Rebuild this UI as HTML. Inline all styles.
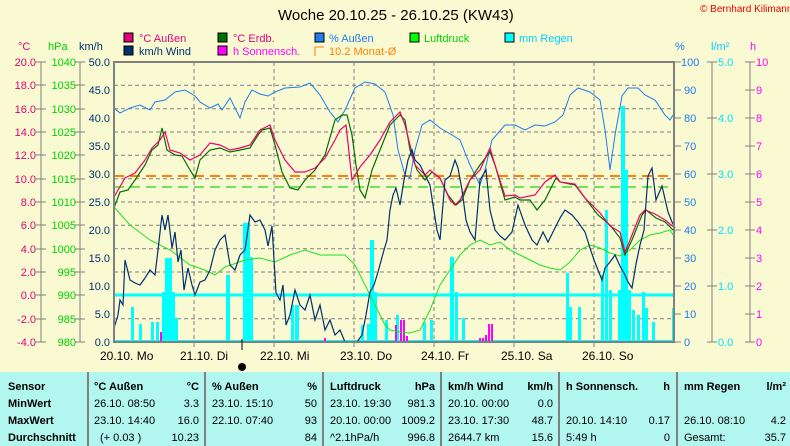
<!DOCTYPE html>
<html><head><meta charset="utf-8"><style>
body{margin:0;background:#fafad2;}
svg{display:block;font-family:"Liberation Sans",sans-serif;}
</style></head><body>
<svg width="790" height="446" viewBox="0 0 790 446" xmlns="http://www.w3.org/2000/svg">
<rect width="790" height="446" fill="#fafad2"/>
<text x="278" y="20" font-size="15" fill="#000">Woche 20.10.25 - 26.10.25 (KW43)</text>
<text x="700" y="12" font-size="10" fill="#e00">© Bernhard Kilimann</text>
<!-- legend -->
<g font-size="11">
<rect x="124" y="33" width="9" height="9" fill="#e0007a" stroke="#000"/><text x="139" y="42" fill="#e0007a">°C  Außen</text>
<rect x="218" y="33" width="9" height="9" fill="#007000" stroke="#000"/><text x="233" y="42" fill="#e0007a">°C Erdb.</text>
<rect x="315" y="33" width="9" height="9" fill="#1e7cf0" stroke="#000"/><text x="329" y="42" fill="#1e7cf0">% Außen</text>
<rect x="410" y="33" width="9" height="9" fill="#00ff00" stroke="#000"/><text x="424" y="42" fill="#00d000">Luftdruck</text>
<rect x="505" y="33" width="9" height="9" fill="#00ffff" stroke="#000"/><text x="519" y="42" fill="#00d0ff">mm Regen</text>
<rect x="124" y="46" width="9" height="9" fill="#003070" stroke="#000"/><text x="139" y="55" fill="#003070">km/h Wind</text>
<rect x="218" y="46" width="9" height="9" fill="#ff00ff" stroke="#000"/><text x="233" y="55" fill="#ff00ff">h Sonnensch.</text>
<path d="M315 56V47h9" fill="none" stroke="#ff8000"/><text x="329" y="55" fill="#ff8000">10.2 Monat-Ø</text>
</g>
<!-- axis titles -->
<g font-size="11">
<text x="18" y="50" fill="#e0007a">°C</text><text x="48" y="50" fill="#00d000">hPa</text><text x="79" y="50" fill="#003070">km/h</text>
<text x="675" y="50" fill="#1e7cf0">%</text><text x="711" y="50" fill="#00d0ff">l/m²</text><text x="750" y="50" fill="#ff00ff">h</text>
</g>
<!-- left axes -->
<g stroke="#808080" fill="none">
<line x1="41" y1="62" x2="41" y2="342"/><line x1="80" y1="62" x2="80" y2="342"/>
<line x1="712" y1="62" x2="712" y2="342"/><line x1="750" y1="62" x2="750" y2="342"/>
</g>
<g font-size="11" text-anchor="end">
<g fill="#e0007a">
<text x="36" y="66">20.0</text><text x="36" y="89">18.0</text><text x="36" y="113">16.0</text><text x="36" y="136">14.0</text><text x="36" y="159">12.0</text><text x="36" y="183">10.0</text><text x="36" y="206">8.0</text><text x="36" y="229">6.0</text><text x="36" y="253">4.0</text><text x="36" y="276">2.0</text><text x="36" y="299">0.0</text><text x="36" y="323">-2.0</text><text x="36" y="346">-4.0</text>
</g>
<g fill="#00d000">
<text x="76" y="66">1040</text><text x="76" y="89">1035</text><text x="76" y="113">1030</text><text x="76" y="136">1025</text><text x="76" y="159">1020</text><text x="76" y="183">1015</text><text x="76" y="206">1010</text><text x="76" y="229">1005</text><text x="76" y="253">1000</text><text x="76" y="276">995</text><text x="76" y="299">990</text><text x="76" y="323">985</text><text x="76" y="346">980</text>
</g>
<g fill="#003070">
<text x="110" y="66">50.0</text><text x="110" y="94">45.0</text><text x="110" y="122">40.0</text><text x="110" y="150">35.0</text><text x="110" y="178">30.0</text><text x="110" y="206">25.0</text><text x="110" y="234">20.0</text><text x="110" y="262">15.0</text><text x="110" y="290">10.0</text><text x="110" y="318">5.0</text><text x="110" y="346">0.0</text>
</g>
</g>
<g stroke="#808080">
<path d="M36 62h10M36 85h10M36 109h10M36 132h10M36 155h10M36 179h10M36 202h10M36 225h10M36 249h10M36 272h10M36 295h10M36 319h10M36 342h10"/>
<path d="M75 62h10M75 85h10M75 109h10M75 132h10M75 155h10M75 179h10M75 202h10M75 225h10M75 249h10M75 272h10M75 295h10M75 319h10M75 342h10"/>
<path d="M675 62h6M675 90h6M675 118h6M675 146h6M675 174h6M675 202h6M675 230h6M675 258h6M675 286h6M675 314h6M675 342h6"/>
<path d="M707 62h10M707 118h10M707 174h10M707 230h10M707 286h10M707 342h10"/>
<path d="M745 62h10M745 90h10M745 118h10M745 146h10M745 174h10M745 202h10M745 230h10M745 258h10M745 286h10M745 314h10M745 342h10"/>
</g>
<g font-size="11">
<g fill="#1e7cf0"><text x="681" y="66">100</text><text x="684" y="94">90</text><text x="684" y="122">80</text><text x="684" y="150">70</text><text x="684" y="178">60</text><text x="684" y="206">50</text><text x="684" y="234">40</text><text x="684" y="262">30</text><text x="684" y="290">20</text><text x="684" y="318">10</text><text x="684" y="346">0</text></g>
<g fill="#00e0ff"><text x="718" y="66">5.0</text><text x="718" y="122">4.0</text><text x="718" y="178">3.0</text><text x="718" y="234">2.0</text><text x="718" y="290">1.0</text><text x="718" y="346">0.0</text></g>
<g fill="#ff00ff"><text x="756" y="66">10</text><text x="756" y="94">9</text><text x="756" y="122">8</text><text x="756" y="150">7</text><text x="756" y="178">6</text><text x="756" y="206">5</text><text x="756" y="234">4</text><text x="756" y="262">3</text><text x="756" y="290">2</text><text x="756" y="318">1</text><text x="756" y="346">0</text></g>
</g>
<!-- grid -->
<g stroke="#808080" stroke-dasharray="4,3">
<path d="M114 85.3H674M114 108.7H674M114 132H674M114 155.3H674M114 178.7H674M114 202H674M114 225.3H674M114 248.7H674M114 272H674M114 295.3H674M114 318.7H674"/>
<path d="M194 62V342M274 62V342M354 62V342M434 62V342M514 62V342M594 62V342"/>
</g>
<!-- monthly lines -->
<line x1="114" y1="176" x2="674" y2="176" stroke="#ff8000" stroke-width="2" stroke-dasharray="10,6"/>
<line x1="114" y1="187" x2="674" y2="187" stroke="#20d020" stroke-width="1.3" stroke-dasharray="10,6"/>
<!-- rain bars -->
<g fill="#00ffff">
<rect x="131" y="307" width="3" height="35"/><rect x="139" y="324" width="3" height="18"/><rect x="151" y="322" width="3" height="20"/><rect x="156" y="322" width="3" height="20"/><rect x="162" y="292" width="3" height="50"/><rect x="165" y="258" width="4" height="84"/><rect x="169" y="258" width="3" height="84"/><rect x="172" y="292" width="3" height="50"/><rect x="175" y="318" width="3" height="24"/>
<rect x="226" y="275" width="4" height="67"/><rect x="243" y="223" width="4" height="119"/><rect x="247" y="223" width="3" height="119"/><rect x="250" y="257" width="3" height="85"/>
<rect x="291" y="305" width="3" height="37"/><rect x="295" y="305" width="4" height="37"/>
<rect x="361" y="325" width="3" height="17"/><rect x="367" y="324" width="3" height="18"/><rect x="370" y="240" width="4" height="102"/><rect x="374" y="292" width="3" height="50"/>
<rect x="385" y="320" width="3" height="22"/><rect x="396" y="315" width="3" height="27"/><rect x="423" y="322" width="3" height="20"/><rect x="430" y="320" width="3" height="22"/>
<rect x="450" y="257" width="4" height="85"/><rect x="455" y="292" width="3" height="50"/><rect x="462" y="318" width="3" height="24"/>
<rect x="566" y="273" width="3" height="69"/><rect x="569" y="307" width="3" height="35"/><rect x="578" y="307" width="3" height="35"/>
<rect x="601" y="275" width="3" height="67"/><rect x="605" y="210" width="3" height="132"/><rect x="609" y="290" width="3" height="52"/>
<rect x="618" y="290" width="3" height="52"/><rect x="621" y="106" width="4" height="236"/><rect x="625" y="170" width="3" height="172"/><rect x="628" y="290" width="3" height="52"/><rect x="632" y="310" width="3" height="32"/><rect x="637" y="315" width="3" height="27"/><rect x="642" y="292" width="3" height="50"/><rect x="645" y="308" width="3" height="34"/><rect x="652" y="322" width="3" height="20"/><rect x="672" y="308" width="3" height="34"/>
</g>
<line x1="114" y1="295" x2="674" y2="295" stroke="#00ffff" stroke-width="3"/>
<line x1="114" y1="341" x2="674" y2="341" stroke="#00ffff" stroke-width="2"/>
<!-- sunshine -->
<g fill="#ff00ff">
<rect x="160" y="332" width="2" height="10"/><rect x="395" y="325" width="2" height="17"/><rect x="400" y="320" width="2" height="22"/><rect x="403" y="320" width="2" height="22"/><rect x="406" y="336" width="2" height="6"/>
<rect x="479" y="338" width="2" height="4"/><rect x="482" y="338" width="2" height="4"/><rect x="485" y="335" width="2" height="7"/><rect x="488" y="324" width="2" height="18"/><rect x="491" y="324" width="2" height="18"/><rect x="324" y="338" width="2" height="4"/>
</g>
<!-- pressure -->
<polyline fill="none" stroke="#20e020" stroke-width="1" points="114,207 130,225 150,240 170,250 190,265 205,270 215,275 225,267 245,260 260,258 275,262 290,255 305,250 320,255 345,255 355,265 365,285 375,305 385,325 390,330 400,332 410,333 420,330 430,310 440,285 450,270 460,255 470,245 480,240 490,245 500,242 510,250 520,255 530,260 540,265 550,268 560,270 570,262 580,250 590,245 600,248 610,253 620,256 630,250 640,240 650,235 660,233 670,230 675,238"/>
<!-- humidity -->
<polyline fill="none" stroke="#1e7cf0" stroke-width="1" points="114,108 120,113 130,108 140,105 150,110 155,102 165,100 175,92 185,90 195,96 200,102 210,108 218,104 222,110 230,98 240,118 245,102 252,90 260,94 268,96 275,92 285,88 300,87 310,83 320,95 330,112 338,122 345,110 355,88 365,82 375,84 385,92 393,115 398,150 405,175 410,178 415,150 422,125 430,120 440,128 452,135 460,140 470,165 480,185 485,170 492,140 505,125 515,125 525,130 535,125 545,126 555,122 563,115 570,95 578,88 590,92 600,100 605,130 610,170 615,135 622,96 628,88 638,88 645,95 655,100 665,115 670,120 675,112"/>
<!-- soil temp -->
<polyline fill="none" stroke="#007000" stroke-width="1.2" points="114,208 120,192 128,190 135,180 145,165 152,150 158,145 162,128 167,150 175,155 182,156 190,170 195,178 200,160 210,150 220,148 230,152 240,150 250,148 258,135 262,130 270,128 275,145 282,172 290,188 298,190 305,180 315,170 325,155 335,120 342,115 347,115 352,135 356,165 360,190 365,198 372,170 380,150 390,125 400,115 405,120 410,150 417,170 425,180 432,172 440,178 448,195 456,205 462,200 470,180 480,165 490,152 495,165 505,200 515,197 520,200 530,200 537,210 545,200 556,178 560,182 575,185 585,198 598,215 610,225 620,238 625,255 632,240 642,215 646,210 656,218 665,222 675,232"/>
<!-- outside temp -->
<polyline fill="none" stroke="#f0006a" stroke-width="1.2" points="114,197 125,178 135,173 145,160 152,148 160,140 165,132 170,150 180,153 190,160 200,155 210,143 220,145 230,150 240,148 250,145 260,130 270,125 275,140 285,160 295,172 305,172 315,168 325,158 335,140 340,130 346,125 352,180 360,167 370,155 380,140 390,122 400,112 405,125 415,165 425,175 430,170 440,178 450,200 455,205 460,200 470,180 480,170 490,148 495,165 505,196 515,195 520,198 535,195 545,182 555,175 560,182 575,184 585,198 600,213 610,226 620,232 625,252 630,240 640,215 645,210 655,214 665,220 675,228"/>
<!-- wind -->
<polyline fill="none" stroke="#003070" stroke-width="1.2" points="114,328 118,315 120,300 123,305 125,260 130,280 135,283 140,285 145,278 150,270 155,275 158,250 162,215 165,230 168,215 172,248 175,232 178,262 181,250 184,290 188,268 192,285 195,295 200,282 205,280 210,270 215,250 220,240 225,235 230,265 235,270 240,255 245,250 250,215 255,222 260,220 265,230 268,246 272,226 276,293 280,300 283,285 286,325 290,315 295,290 300,305 305,310 310,295 315,320 320,305 325,330 330,320 335,335 340,330 345,342 357,342 362,335 366,315 370,292 374,285 378,272 384,250 387,240 390,210 393,195 396,188 400,205 404,180 408,160 412,150 415,160 420,165 425,175 430,185 433,205 437,230 440,240 445,180 450,176 455,160 458,168 462,190 466,220 470,232 475,240 480,180 486,170 490,210 495,230 500,236 505,240 512,232 518,205 525,225 532,240 537,245 543,232 548,242 553,232 560,218 565,210 572,215 578,222 585,232 590,248 594,260 598,270 602,280 605,268 610,262 615,255 620,266 625,275 628,282 632,288 636,264 640,245 644,230 648,176 652,168 656,200 662,186 668,212 672,222 675,228"/>
<!-- frame -->
<path d="M114 62H674V342H114Z" fill="none" stroke="#808080" stroke-width="2"/>
<path d="M194 342v5M274 342v5M354 342v5M434 342v5M514 342v5M594 342v5" stroke="#808080"/>
<line x1="242" y1="339" x2="242" y2="350" stroke="#000"/>
<circle cx="242" cy="367" r="4" fill="#000"/>
<g font-size="12" fill="#000">
<text x="100" y="360">20.10.  Mo</text><text x="180" y="360">21.10.  Di</text><text x="260" y="360">22.10.  Mi</text><text x="340" y="360">23.10.  Do</text><text x="421" y="360">24.10.  Fr</text><text x="501" y="360">25.10.  Sa</text><text x="582" y="360">26.10.  So</text>
</g>
<!-- table -->
<rect x="0" y="372" width="790" height="74" fill="#b2f6f0"/>
<g stroke="#808080" stroke-width="2"><path d="M88 372V446M205 372V446M323 372V446M441 372V446M559 372V446M677 372V446"/></g>
<g font-size="11" fill="#000">
<g font-weight="bold"><text x="8" y="390">Sensor</text><text x="8" y="407">MinWert</text><text x="8" y="424">MaxWert</text><text x="8" y="441">Durchschnitt</text>
<text x="94" y="390">°C  Außen</text><text x="199" y="390" text-anchor="end">°C</text>
<text x="212" y="390">% Außen</text><text x="317" y="390" text-anchor="end">%</text>
<text x="330" y="390">Luftdruck</text><text x="435" y="390" text-anchor="end">hPa</text>
<text x="448" y="390">km/h Wind</text><text x="553" y="390" text-anchor="end">km/h</text>
<text x="566" y="390">h Sonnensch.</text><text x="670" y="390" text-anchor="end">h</text>
<text x="684" y="390">mm Regen</text><text x="786" y="390" text-anchor="end">l/m²</text></g>
<text x="94" y="407">26.10.  08:50</text><text x="199" y="407" text-anchor="end">3.3</text>
<text x="94" y="424">23.10.  14:40</text><text x="199" y="424" text-anchor="end">16.0</text>
<text x="100" y="441">(+ 0.03 )</text><text x="199" y="441" text-anchor="end">10.23</text>
<text x="212" y="407">23.10.  15:10</text><text x="317" y="407" text-anchor="end">50</text>
<text x="212" y="424">22.10.  07:40</text><text x="317" y="424" text-anchor="end">93</text>
<text x="317" y="441" text-anchor="end">84</text>
<text x="330" y="407">23.10.  19:30</text><text x="435" y="407" text-anchor="end">981.3</text>
<text x="330" y="424">20.10.  00:00</text><text x="435" y="424" text-anchor="end">1009.2</text>
<text x="330" y="441">^2.1hPa/h</text><text x="435" y="441" text-anchor="end">996.8</text>
<text x="448" y="407">20.10.  00:00</text><text x="553" y="407" text-anchor="end">0.0</text>
<text x="448" y="424">23.10.  17:30</text><text x="553" y="424" text-anchor="end">48.7</text>
<text x="448" y="441">2644.7 km</text><text x="553" y="441" text-anchor="end">15.6</text>
<text x="566" y="424">20.10.  14:10</text><text x="670" y="424" text-anchor="end">0.17</text>
<text x="566" y="441">5:49 h</text><text x="670" y="441" text-anchor="end">0</text>
<text x="684" y="424">26.10.  08:10</text><text x="786" y="424" text-anchor="end">4.2</text>
<text x="684" y="441">Gesamt:</text><text x="786" y="441" text-anchor="end">35.7</text>
</g>
</svg>
</body></html>
